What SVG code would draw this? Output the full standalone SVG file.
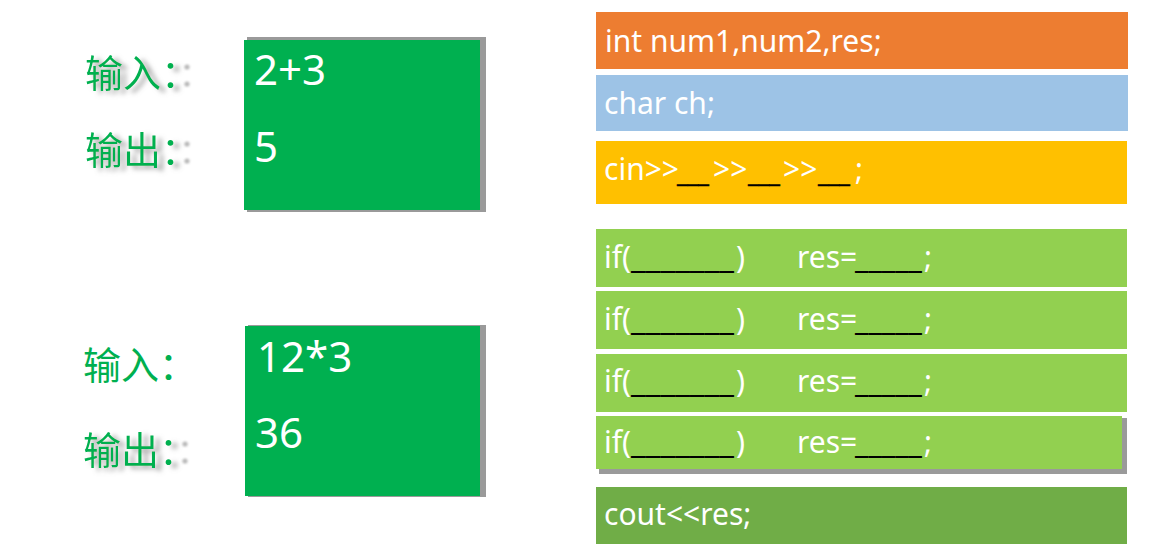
<svg xmlns="http://www.w3.org/2000/svg" width="1168" height="551" viewBox="0 0 1168 551">
<style>
.cn{font-family:"Noto Sans CJK SC","Noto Sans",sans-serif;font-size:38px;fill:#00B050}
.num{font-family:"Noto Sans",sans-serif;font-size:42px;fill:#FFFFFF}
.code{font-family:"Noto Sans",sans-serif;font-size:30px;fill:#FFFFFF}
.blank{fill:#000000}
.sblank{fill:#000000;font-size:24px;stroke:#000000;stroke-width:0.5}
.shadow{fill:#9A9A9A}
.gdot{fill:#B8B8B8}
</style>
<defs>
<filter id="ts" x="-20%" y="-30%" width="140%" height="160%">
<feGaussianBlur in="SourceAlpha" stdDeviation="2.5" result="b"/>
<feOffset in="b" dx="6" dy="3" result="o"/>
<feFlood flood-color="#808080" flood-opacity="0.7"/>
<feComposite in2="o" operator="in" result="s"/>
<feMerge><feMergeNode in="s"/><feMergeNode in="SourceGraphic"/></feMerge>
</filter>
<filter id="blur" x="-100%" y="-100%" width="300%" height="300%">
<feGaussianBlur stdDeviation="1.3"/>
</filter>
</defs>
<rect width="1168" height="551" fill="#FFFFFF"/>

<g id="label-in-1">
<text class="cn" x="85" y="87" filter="url(#ts)">输入：</text>
<g filter="url(#blur)"><circle class="gdot" cx="187" cy="67" r="2.6"/><circle class="gdot" cx="187" cy="84" r="2.6"/></g>
</g>
<g id="label-out-1">
<text class="cn" x="85" y="164" filter="url(#ts)">输出：</text>
<g filter="url(#blur)"><circle class="gdot" cx="187" cy="144" r="2.6"/><circle class="gdot" cx="187" cy="161" r="2.6"/></g>
</g>
<g id="label-in-2">
<text class="cn" x="83" y="379">输入：</text>
</g>
<g id="label-out-2">
<text class="cn" x="83" y="464" filter="url(#ts)">输出：</text>
<g filter="url(#blur)"><circle class="gdot" cx="185" cy="444" r="2.6"/><circle class="gdot" cx="185" cy="461" r="2.6"/></g>
</g>

<g id="box-1">
<rect class="shadow" x="247" y="37" width="239" height="175"/>
<rect x="244" y="40" width="236" height="170" fill="#00B050"/>
<text class="num" x="254" y="85">2+3</text>
<text class="num" x="254" y="162">5</text>
</g>
<g id="box-2">
<rect class="shadow" x="248" y="325" width="238" height="172"/>
<rect x="245" y="326" width="235" height="170" fill="#00B050"/>
<text class="num" x="257" y="372">12*3</text>
<text class="num" x="255" y="448">36</text>
</g>

<g id="bar-int">
<rect x="596" y="12" width="532" height="57" fill="#ED7D31"/>
<text class="code" x="605" y="52">int num1,num2,res;</text>
</g>
<g id="bar-char">
<rect x="596" y="75" width="532" height="56" fill="#9DC3E6"/>
<text class="code" x="604" y="114">char ch;</text>
</g>
<g id="bar-cin">
<rect x="596" y="141" width="531" height="63" fill="#FFC000"/>
<text class="code" y="180"><tspan x="604">cin&gt;&gt;</tspan><tspan class="sblank" x="677" y="182">___</tspan><tspan x="713" y="180">&gt;&gt;</tspan><tspan class="sblank" x="748" y="182">___</tspan><tspan x="783" y="180">&gt;&gt;</tspan><tspan class="sblank" x="818" y="182">___</tspan><tspan x="855" y="180">;</tspan></text>
</g>

<g id="bar-if-1">
<rect x="596" y="229" width="531" height="58" fill="#92D050"/>
<text class="code" y="268"><tspan x="604">if(</tspan><tspan class="blank" x="631" textLength="103" lengthAdjust="spacingAndGlyphs">_______</tspan><tspan x="736">)</tspan><tspan x="797">res=</tspan><tspan class="blank" x="855" textLength="67" lengthAdjust="spacingAndGlyphs">_____</tspan><tspan x="924">;</tspan></text>
</g>
<g id="bar-if-2">
<rect x="596" y="291" width="531" height="58" fill="#92D050"/>
<text class="code" y="330"><tspan x="604">if(</tspan><tspan class="blank" x="631" textLength="103" lengthAdjust="spacingAndGlyphs">_______</tspan><tspan x="736">)</tspan><tspan x="797">res=</tspan><tspan class="blank" x="855" textLength="67" lengthAdjust="spacingAndGlyphs">_____</tspan><tspan x="924">;</tspan></text>
</g>
<g id="bar-if-3">
<rect x="596" y="354" width="531" height="58" fill="#92D050"/>
<text class="code" y="392"><tspan x="604">if(</tspan><tspan class="blank" x="631" textLength="103" lengthAdjust="spacingAndGlyphs">_______</tspan><tspan x="736">)</tspan><tspan x="797">res=</tspan><tspan class="blank" x="855" textLength="67" lengthAdjust="spacingAndGlyphs">_____</tspan><tspan x="924">;</tspan></text>
</g>
<g id="bar-if-4">
<rect class="shadow" x="599" y="418" width="528" height="56"/>
<rect x="596" y="416" width="526" height="53" fill="#92D050"/>
<text class="code" y="453"><tspan x="604">if(</tspan><tspan class="blank" x="631" textLength="103" lengthAdjust="spacingAndGlyphs">_______</tspan><tspan x="736">)</tspan><tspan x="797">res=</tspan><tspan class="blank" x="855" textLength="67" lengthAdjust="spacingAndGlyphs">_____</tspan><tspan x="924">;</tspan></text>
</g>
<g id="bar-cout">
<rect x="596" y="487" width="531" height="57" fill="#70AD47"/>
<text class="code" x="604" y="525">cout&lt;&lt;res;</text>
</g>

<g id="connectors"/>
</svg>
